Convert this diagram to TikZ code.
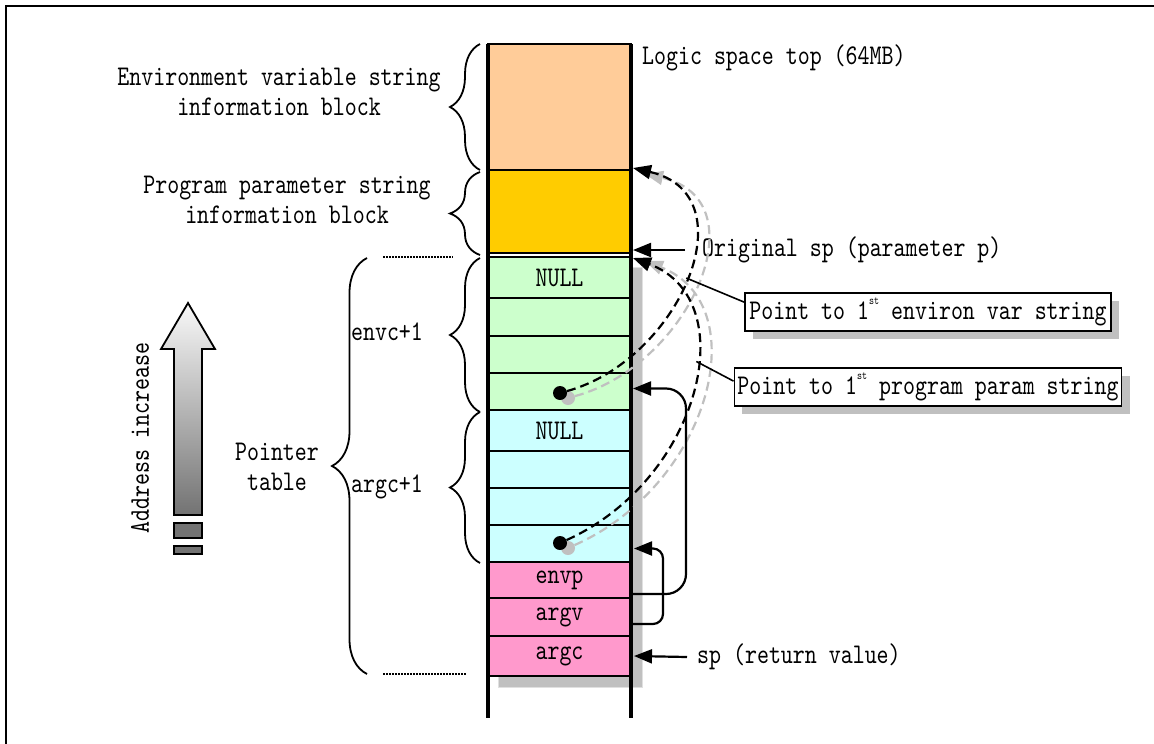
\documentclass[tikz,border=0pt]{standalone}
\usepackage{fontspec}
\setmainfont{lmmono10-regular.otf}[FakeStretch=0.8]
\usetikzlibrary{calc,positioning,decorations.pathreplacing,shadows,arrows.meta}

\definecolor{orangefill}{HTML}{FFCC99}
\definecolor{yellowfill}{HTML}{FFCC00}
\definecolor{greenfill}{HTML}{CCFFCC}
\definecolor{cyanfill}{HTML}{CCFFFF}
\definecolor{pinkfill}{HTML}{FF99CC}
\definecolor{shadowgray}{HTML}{C0C0C0}

\newcommand\supst[1]{\raisebox{0.55em}{\fontsize{12}{12}\selectfont #1}}

\begin{document}
\begin{tikzpicture}[
    x=1pt, y=-1pt,
    font=\fontsize{28.5}{30}\selectfont,
    % Node styles
    cell/.style={draw, line width=1.6pt, minimum width=143pt, inner sep=0pt, outer sep=0pt, anchor=north},
    txt/.style={inner sep=0pt, align=center},
    notebox/.style={draw, line width=1.8pt, fill=white, minimum height=38pt, inner sep=3pt,
        drop shadow={shadow xshift=8pt, shadow yshift=-8pt, fill=shadowgray, opacity=1}},
    dot/.style={circle, fill=black, minimum size=14pt, inner sep=0pt},
    % Line styles
    wall/.style={line width=3.8pt},
    brace/.style={decorate, decoration={brace, amplitude=#1}, line width=1.8pt},
    arrow/.style={-{Triangle[length=18pt,width=14pt]}, line width=2.2pt},
    dasharrow/.style={arrow, dash pattern=on 9pt off 5pt},
]
    \useasboundingbox (0,0) rectangle (1154,744);
    \draw[line width=2.5pt] (6,744) -- (6,6) -- (1154,6);

    % shadow behind the pointer table
    \fill[shadowgray, draw=black!12, line width=1pt] (498,267) rectangle (642,687);

    % Stack cells
    \node[cell, fill=orangefill, minimum height=126pt] (orange) at (559.5,44) {};
    \node[cell, fill=yellowfill, minimum height=83pt] (yellow) at (559.5,170) {};
    \node[cell, fill=greenfill, minimum height=41pt] (g1) at (559.5,257) {NULL};
    \node[cell, fill=greenfill, minimum height=38pt] (g2) at (559.5,298) {};
    \node[cell, fill=greenfill, minimum height=37pt] (g3) at (559.5,336) {};
    \node[cell, fill=greenfill, minimum height=37pt] (g4) at (559.5,373) {};
    \node[cell, fill=cyanfill, minimum height=41pt] (c1) at (559.5,410) {NULL};
    \node[cell, fill=cyanfill, minimum height=37pt] (c2) at (559.5,451) {};
    \node[cell, fill=cyanfill, minimum height=37pt] (c3) at (559.5,488) {};
    \node[cell, fill=cyanfill, minimum height=37pt] (c4) at (559.5,525) {};
    \node[cell, fill=pinkfill, minimum height=36pt] (p1) at (559.5,562) {envp};
    \node[cell, fill=pinkfill, minimum height=38pt] (p2) at (559.5,598) {argv};
    \node[cell, fill=pinkfill, minimum height=40pt] (p3) at (559.5,636) {argc};

    % column walls
    \draw[wall] (orange.north west) -- ++(0,674);
    \draw[wall] (orange.north east) -- ++(0,674);

    % Braces and their labels
    \draw[brace=30pt] ($(orange.south west)+(-8,0)$) -- ($(orange.north west)+(-8,0)$);
    \draw[brace=30pt] ($(yellow.south west)+(-8,2)$) -- ($(yellow.north west)+(-8,2)$);
    \draw[brace=30pt] ($(g4.south west)+(-8,2)$) -- ($(g1.north west)+(-8,1)$);
    \draw[brace=30pt] ($(c4.south west)+(-8,1)$) -- ($(c1.north west)+(-8,2)$);
    \draw[brace=35pt] ($(p3.south west)+(-121,-2)$) -- ($(g1.north west)+(-121,1)$);

    \node[txt] (envblk) at (279,92) {Environment variable string\\information block};
    \node[txt] (argblk) at (287,200) {Program parameter string\\information block};
    \node[txt] (envcnt) at (387,332) {envc+1};
    \node[txt] (argcnt) at (387,487) {argc+1};
    \node[txt] (ptrtab) at (277,467) {Pointer\\table};

    \draw[line width=2pt, dash pattern=on 1.5pt off 1.5pt] ($(g1.north west)+(-105,0)$) -- ($(g1.north west)+(-35,0)$);
    \draw[line width=2pt, dash pattern=on 1.5pt off 1.5pt] ($(p3.south west)+(-105,-2)$) -- ($(p3.south west)+(-22,-2)$);

    % Address arrow
    \shadedraw[top color=gray!5, bottom color=black!55, line width=1.8pt]
        (174,515) -- (174,349) -- (161,349) -- (188,303) -- (215,349) -- (202,349) -- (202,515) -- cycle;
    \filldraw[fill=black!55, line width=1.8pt] (174,523) rectangle (202,538);
    \filldraw[fill=black!55, line width=1.8pt] (174,546) rectangle (202,554);
    \node[txt, rotate=90] (addr) at (140,438) {Address increase};

    % Right side labels
    \node[txt, anchor=west] (lstop) at (642,58) {Logic space top (64MB)};
    \node[txt, anchor=west] (osp) at (702,250) {Original sp (parameter p)};
    \node[txt, anchor=west] (retsp) at (697,657) {sp (return value)};
    \node[notebox, minimum width=366pt] (envnote) at (928,312) {Point to 1\supst{st} environ var string};
    \node[notebox, minimum width=370pt] (argnote) at (928,387) {Point to 1\supst{st} program param string};

    % Pointer curves (shadow first)
    \node[dot, fill=shadowgray] (sd1) at (568,398) {};
    \node[dot, fill=shadowgray] (sd2) at (568,548) {};
    \draw[dasharrow, shadowgray] (sd1) .. controls (690,365) and (762,200) .. ($(yellow.north east)+(14,4)$);
    \draw[dasharrow, shadowgray] (sd2) .. controls (710,485) and (757,305) .. ($(g1.north east)+(14,4)$);
    \node[dot] (d1) at (560,393) {};
    \node[dot] (d2) at (560,543) {};
    \draw[dasharrow] (d1) .. controls (680,360) and (750,195) .. ($(yellow.north east)+(2,-2)$) coordinate[pos=0.5] (envhit);
    \draw[dasharrow] (d2) .. controls (700,480) and (745,300) .. ($(g1.north east)+(2,1)$) coordinate[pos=0.59] (arghit);

    % Connections
    \draw[line width=1.6pt] ([yshift=-10pt]envnote.north west) -- (envhit);
    \draw[line width=1.6pt] ([yshift=-14pt]argnote.north west) -- (arghit);
    \draw[arrow] ([xshift=-17pt]osp.west) -- ([xshift=2pt,yshift=3pt]yellow.south east);
    \draw[arrow] ([xshift=-10pt]retsp.west) -- ([xshift=3pt]p3.east);
    \draw[arrow, rounded corners=20pt] ([yshift=-14pt]p1.east) -- ++(55,0) |- ([xshift=2pt,yshift=3pt]g4.east);
    \draw[arrow, rounded corners=10pt] ([yshift=-7pt]p2.east) -- ++(32,0) |- ([xshift=3pt,yshift=-5pt]c4.east);

\end{tikzpicture}
\end{document}
